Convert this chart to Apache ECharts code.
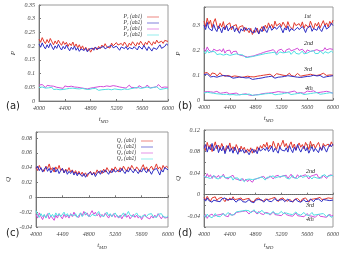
<!DOCTYPE html>
<html><head><meta charset="utf-8">
<script src="https://cdn.jsdelivr.net/npm/echarts@6/dist/echarts.min.js"></script>
<style>html,body{margin:0;padding:0;background:#fff}#c{width:352px;height:256px}</style>
</head><body><div id="c"></div>
<script>
const tMD = [4000,4025,4050,4075,4100,4125,4150,4175,4200,4225,
4250,4275,4300,4325,4350,4375,4400,4425,4450,4475,
4500,4525,4550,4575,4600,4625,4650,4675,4700,4725,
4750,4775,4800,4825,4850,4875,4900,4925,4950,4975,
5000,5025,5050,5075,5100,5125,5150,5175,5200,5225,
5250,5275,5300,5325,5350,5375,5400,5425,5450,5475,
5500,5525,5550,5575,5600,5625,5650,5675,5700,5725,
5750,5775,5800,5825,5850,5875,5900,5925,5950,5975,6000];

// panel (a)
const P1_ab1 = [.226,.214,.231,.218,.209,.224,.212,.228,.216,.205,.219,.208,.222,.211,.203,.217,.206,.214,.199,.210,.202,.215,.197,.208,.194,.205,.190,.201,.186,.196,.183,.192,.178,.189,.182,.195,.186,.199,.191,.204,.196,.209,.198,.205,.193,.211,.201,.196,.213,.204,.198,.210,.202,.215,.206,.197,.211,.203,.216,.208,.200,.213,.205,.218,.209,.201,.214,.206,.219,.211,.203,.216,.208,.222,.212,.205,.218,.210,.221,.214,.217];
const P1_ab2 = [.208,.196,.212,.199,.190,.205,.194,.210,.198,.187,.201,.192,.207,.195,.186,.199,.190,.204,.193,.183,.196,.188,.200,.185,.194,.181,.190,.197,.184,.192,.179,.188,.183,.193,.185,.197,.189,.182,.194,.187,.199,.190,.186,.198,.192,.203,.194,.188,.200,.193,.185,.197,.204,.191,.199,.187,.195,.202,.190,.198,.193,.186,.200,.195,.189,.203,.196,.184,.198,.191,.182,.194,.201,.188,.197,.205,.192,.186,.199,.208,.203];
const P2_ab1 = [.058,.051,.060,.053,.049,.057,.050,.055,.048,.054,.059,.050,.056,.048,.053,.046,.055,.049,.052,.047,.054,.048,.051,.045,.050,.044,.048,.042,.046,.040,.044,.039,.047,.042,.049,.044,.051,.046,.053,.048,.052,.046,.055,.049,.053,.047,.056,.050,.054,.048,.051,.057,.049,.054,.047,.052,.058,.050,.055,.049,.053,.047,.056,.051,.049,.055,.050,.058,.052,.048,.055,.050,.057,.052,.060,.053,.049,.056,.051,.054,.050];
const P2_ab2 = [.049,.043,.051,.045,.047,.041,.048,.044,.050,.042,.046,.043,.049,.041,.045,.042,.048,.044,.040,.046,.042,.047,.041,.045,.039,.044,.041,.046,.040,.043,.038,.042,.040,.045,.041,.046,.042,.039,.044,.041,.046,.042,.048,.043,.045,.041,.047,.044,.049,.042,.045,.041,.048,.044,.046,.042,.049,.045,.043,.047,.044,.050,.043,.046,.042,.048,.045,.051,.044,.047,.043,.049,.045,.052,.046,.042,.048,.044,.050,.046,.044];

// panel (b)
const B1_ab1 = [.318,.296,.330,.305,.322,.292,.314,.328,.300,.287,.309,.294,.316,.285,.302,.297,.311,.283,.298,.290,.304,.279,.295,.287,.300,.276,.292,.284,.271,.289,.264,.282,.273,.290,.268,.285,.296,.278,.302,.289,.311,.294,.305,.287,.318,.299,.291,.309,.296,.314,.302,.290,.316,.298,.306,.285,.312,.300,.293,.308,.296,.315,.289,.304,.310,.292,.318,.301,.287,.309,.298,.313,.291,.306,.320,.300,.311,.295,.317,.305,.322];
const B1_ab2 = [.302,.284,.313,.289,.296,.279,.305,.286,.276,.299,.288,.271,.294,.283,.301,.278,.290,.284,.297,.275,.291,.280,.269,.287,.278,.293,.281,.273,.289,.277,.284,.270,.292,.279,.266,.286,.275,.297,.283,.272,.289,.298,.281,.276,.294,.285,.279,.300,.287,.271,.291,.282,.298,.276,.288,.295,.280,.274,.293,.284,.278,.296,.287,.272,.290,.283,.299,.277,.288,.294,.281,.297,.285,.276,.292,.302,.286,.279,.296,.310,.300];
const B2_ab1 = [.208,.196,.214,.201,.209,.193,.205,.212,.198,.190,.203,.194,.207,.189,.199,.192,.201,.186,.195,.190,.197,.184,.192,.180,.188,.177,.185,.173,.181,.176,.170,.178,.174,.183,.177,.187,.181,.192,.185,.196,.189,.199,.192,.203,.195,.188,.200,.193,.205,.197,.190,.202,.196,.207,.198,.191,.203,.195,.209,.200,.193,.205,.198,.190,.202,.207,.196,.204,.199,.192,.203,.209,.197,.205,.200,.211,.202,.196,.207,.201,.204];
const B2_ab2 = [.196,.187,.201,.190,.184,.197,.189,.193,.183,.191,.186,.194,.181,.189,.185,.192,.180,.187,.183,.178,.186,.179,.183,.175,.182,.176,.171,.179,.173,.168,.175,.170,.178,.172,.181,.176,.184,.178,.187,.180,.189,.183,.191,.185,.193,.181,.188,.194,.186,.190,.183,.192,.187,.195,.184,.191,.198,.188,.193,.185,.191,.197,.186,.194,.189,.183,.196,.190,.199,.187,.193,.188,.198,.191,.186,.195,.200,.189,.194,.197,.191];
const B3_ab1 = [.108,.100,.111,.103,.098,.109,.102,.106,.097,.104,.110,.101,.105,.096,.103,.099,.107,.094,.100,.097,.102,.095,.099,.091,.097,.093,.089,.096,.090,.094,.087,.093,.089,.096,.091,.098,.093,.100,.095,.102,.097,.104,.099,.094,.101,.106,.098,.103,.096,.100,.105,.098,.102,.108,.099,.104,.095,.101,.107,.100,.096,.103,.099,.106,.101,.097,.104,.109,.100,.105,.099,.106,.102,.097,.108,.103,.099,.107,.101,.104,.100];
const B3_ab2 = [.102,.096,.105,.098,.093,.101,.095,.099,.092,.100,.096,.091,.099,.094,.097,.090,.095,.092,.088,.094,.090,.086,.093,.088,.091,.085,.089,.084,.090,.087,.083,.088,.085,.091,.087,.093,.089,.086,.092,.088,.094,.090,.096,.091,.088,.095,.092,.097,.093,.089,.095,.091,.098,.093,.096,.090,.094,.099,.092,.096,.091,.097,.093,.099,.095,.090,.096,.094,.100,.093,.097,.092,.099,.095,.091,.098,.094,.101,.096,.093,.098];
const B4_ab1 = [.032,.027,.034,.029,.033,.026,.031,.028,.035,.030,.027,.032,.029,.025,.031,.028,.024,.030,.026,.023,.028,.024,.021,.026,.023,.019,.025,.022,.020,.024,.018,.023,.021,.026,.022,.028,.025,.030,.027,.032,.028,.033,.029,.026,.031,.027,.034,.029,.032,.028,.031,.035,.030,.027,.033,.029,.036,.031,.028,.034,.030,.033,.027,.031,.036,.029,.034,.030,.037,.032,.029,.034,.031,.028,.033,.030,.035,.029,.032,.030,.027];
const B4_ab2 = [.028,.024,.031,.026,.029,.023,.027,.030,.025,.028,.024,.027,.022,.026,.023,.028,.021,.025,.022,.026,.020,.024,.021,.018,.023,.020,.022,.019,.024,.021,.019,.022,.020,.024,.021,.019,.023,.020,.025,.022,.026,.023,.027,.024,.021,.026,.023,.028,.024,.022,.027,.024,.029,.025,.022,.027,.024,.030,.026,.023,.028,.025,.022,.027,.024,.029,.026,.023,.028,.025,.030,.026,.023,.028,.025,.031,.027,.024,.029,.026,.028];

// panel (c)
const Q1_ab1 = [.041,.036,.043,.038,.040,.035,.042,.039,.045,.037,.040,.034,.041,.037,.043,.036,.039,.033,.038,.035,.040,.034,.037,.032,.036,.031,.035,.030,.034,.029,.033,.028,.032,.035,.030,.034,.031,.037,.033,.036,.032,.038,.034,.040,.036,.033,.039,.035,.041,.037,.034,.040,.036,.042,.038,.035,.041,.037,.043,.039,.036,.041,.038,.034,.040,.044,.037,.041,.035,.039,.042,.037,.040,.045,.038,.041,.036,.043,.039,.042,.040];
const Q1_ab2 = [.039,.042,.036,.040,.034,.038,.041,.035,.039,.033,.037,.040,.034,.038,.032,.036,.039,.033,.037,.031,.035,.032,.036,.030,.034,.029,.033,.031,.028,.032,.027,.031,.029,.034,.030,.033,.028,.032,.035,.031,.036,.033,.037,.034,.031,.036,.033,.038,.034,.032,.037,.034,.039,.035,.032,.037,.034,.039,.036,.033,.038,.035,.032,.037,.034,.039,.036,.033,.038,.035,.031,.036,.034,.039,.035,.030,.037,.034,.040,.038,.037];
const Q2_ab1 = [-.023,-.028,-.021,-.026,-.030,-.024,-.027,-.022,-.029,-.025,-.027,-.031,-.024,-.028,-.022,-.026,-.029,-.023,-.027,-.024,-.028,-.022,-.026,-.020,-.025,-.023,-.027,-.021,-.025,-.019,-.024,-.021,-.026,-.022,-.018,-.023,-.020,-.025,-.022,-.027,-.023,-.026,-.021,-.025,-.028,-.023,-.026,-.022,-.027,-.024,-.028,-.024,-.029,-.025,-.022,-.027,-.024,-.029,-.026,-.023,-.027,-.024,-.028,-.025,-.030,-.026,-.023,-.027,-.025,-.029,-.025,-.028,-.024,-.027,-.022,-.026,-.029,-.025,-.028,-.026,-.027];
const Q2_ab2 = [-.018,-.024,-.027,-.022,-.026,-.023,-.028,-.024,-.021,-.026,-.023,-.027,-.021,-.025,-.022,-.026,-.024,-.020,-.025,-.022,-.026,-.023,-.021,-.025,-.022,-.027,-.024,-.021,-.026,-.023,-.020,-.024,-.022,-.026,-.023,-.021,-.025,-.022,-.019,-.024,-.022,-.026,-.023,-.020,-.025,-.022,-.026,-.024,-.021,-.025,-.023,-.027,-.024,-.021,-.026,-.023,-.019,-.024,-.022,-.026,-.024,-.021,-.025,-.023,-.027,-.024,-.022,-.026,-.023,-.025,-.022,-.026,-.024,-.027,-.023,-.025,-.022,-.026,-.024,-.027,-.025];

// panel (d)
const D1_ab1 = [.091,.082,.097,.086,.093,.080,.089,.098,.085,.092,.084,.095,.087,.079,.091,.085,.096,.083,.089,.081,.093,.086,.079,.090,.083,.088,.078,.085,.080,.087,.077,.084,.080,.089,.082,.091,.086,.094,.088,.097,.085,.092,.087,.099,.090,.084,.096,.088,.093,.101,.089,.095,.086,.092,.098,.087,.094,.083,.090,.096,.088,.093,.085,.097,.091,.084,.099,.089,.094,.086,.092,.097,.088,.083,.095,.090,.087,.094,.089,.098,.091];
const D1_ab2 = [.086,.093,.079,.089,.083,.095,.081,.088,.092,.078,.087,.081,.090,.076,.085,.091,.080,.086,.077,.088,.082,.075,.086,.080,.084,.077,.083,.079,.074,.081,.085,.078,.083,.076,.087,.081,.079,.086,.082,.088,.080,.084,.090,.079,.086,.082,.077,.089,.083,.086,.081,.087,.079,.091,.084,.078,.088,.082,.093,.085,.079,.086,.090,.081,.087,.077,.084,.089,.080,.086,.083,.078,.088,.082,.091,.085,.079,.087,.093,.089,.094];
const D2_ab1 = [.036,.031,.039,.033,.037,.030,.035,.038,.032,.036,.030,.034,.038,.032,.035,.029,.033,.031,.036,.030,.033,.028,.031,.026,.030,.025,.029,.024,.028,.026,.023,.028,.025,.030,.027,.032,.029,.034,.030,.033,.031,.035,.032,.029,.034,.031,.036,.032,.030,.035,.032,.036,.030,.034,.038,.032,.035,.031,.037,.033,.030,.035,.032,.037,.033,.029,.034,.031,.036,.033,.038,.032,.035,.031,.036,.033,.030,.035,.032,.037,.034];
const D2_ab2 = [.034,.037,.032,.035,.030,.033,.036,.031,.034,.029,.033,.030,.035,.031,.028,.032,.029,.033,.027,.031,.028,.031,.026,.030,.027,.024,.028,.025,.029,.026,.028,.025,.029,.027,.031,.028,.033,.030,.027,.032,.029,.033,.030,.035,.031,.028,.033,.030,.034,.031,.035,.031,.034,.029,.032,.036,.031,.034,.030,.033,.036,.032,.029,.034,.031,.035,.032,.029,.033,.036,.031,.034,.030,.035,.032,.037,.033,.030,.035,.033,.036];
const D3_ab1 = [-.005,-.010,-.003,-.008,-.012,-.006,-.009,-.004,-.011,-.007,-.010,-.005,-.009,-.013,-.007,-.011,-.006,-.010,-.004,-.009,-.012,-.008,-.011,-.006,-.010,-.013,-.008,-.011,-.007,-.012,-.009,-.013,-.008,-.011,-.006,-.010,-.007,-.012,-.008,-.005,-.009,-.012,-.007,-.010,-.005,-.009,-.013,-.008,-.011,-.006,-.010,-.007,-.012,-.008,-.011,-.014,-.009,-.012,-.007,-.010,-.013,-.008,-.011,-.006,-.010,-.014,-.009,-.012,-.008,-.011,-.007,-.010,-.005,-.009,-.012,-.008,-.011,-.006,-.009,-.007,-.006];
const D3_ab2 = [-.008,-.012,-.006,-.011,-.009,-.014,-.010,-.007,-.012,-.009,-.013,-.008,-.011,-.006,-.010,-.013,-.009,-.012,-.008,-.011,-.014,-.010,-.012,-.009,-.013,-.010,-.014,-.011,-.009,-.013,-.011,-.015,-.010,-.013,-.009,-.012,-.010,-.014,-.011,-.008,-.012,-.009,-.013,-.010,-.007,-.011,-.014,-.010,-.012,-.009,-.013,-.010,-.008,-.012,-.009,-.013,-.011,-.008,-.012,-.010,-.014,-.011,-.009,-.013,-.010,-.012,-.008,-.011,-.013,-.009,-.012,-.008,-.011,-.013,-.009,-.012,-.010,-.007,-.011,-.009,-.010];
const D4_ab1 = [-.041,-.037,-.044,-.039,-.042,-.036,-.040,-.043,-.038,-.041,-.037,-.040,-.035,-.039,-.036,-.041,-.034,-.038,-.035,-.037,-.033,-.036,-.032,-.035,-.031,-.034,-.030,-.033,-.036,-.032,-.034,-.030,-.033,-.036,-.031,-.035,-.032,-.037,-.033,-.036,-.034,-.038,-.035,-.032,-.037,-.034,-.038,-.035,-.039,-.036,-.033,-.037,-.035,-.039,-.036,-.040,-.037,-.034,-.039,-.036,-.040,-.037,-.041,-.038,-.035,-.039,-.036,-.040,-.038,-.042,-.039,-.036,-.040,-.037,-.041,-.038,-.042,-.039,-.036,-.040,-.038];
const D4_ab2 = [-.038,-.042,-.036,-.040,-.037,-.043,-.039,-.035,-.040,-.037,-.041,-.038,-.035,-.039,-.036,-.033,-.037,-.034,-.038,-.035,-.032,-.035,-.031,-.034,-.030,-.033,-.029,-.032,-.030,-.034,-.031,-.028,-.032,-.030,-.034,-.031,-.029,-.033,-.031,-.035,-.032,-.036,-.033,-.031,-.035,-.032,-.036,-.034,-.031,-.035,-.037,-.034,-.031,-.036,-.033,-.037,-.035,-.032,-.036,-.034,-.038,-.035,-.033,-.037,-.034,-.039,-.036,-.033,-.038,-.035,-.037,-.040,-.036,-.039,-.035,-.038,-.041,-.037,-.039,-.042,-.040];

const legendA = ['P\u2081 (ab1)','P\u2081 (ab2)','P\u2082 (ab1)','P\u2082 (ab2)'];
const legendC = ['Q\u2081 (ab1)','Q\u2081 (ab2)','Q\u2082 (ab1)','Q\u2082 (ab2)'];
const orderLabels = ['1st','2nd','3rd','4th'];
const panelLabels = ['(a)','(b)','(c)','(d)'];

const RED='#e2372c', BLUE='#2c2cc4', MAG='#d24bd8', CYAN='#4fdfe2';
const serif = '"Liberation Serif","DejaVu Serif",serif';

function pts(v){ return tMD.map((x,i)=>[x,v[i]]); }
function fmtEvery(step){ return function(v){ const k=v/step; return Math.abs(k-Math.round(k))<1e-6 ? String(+v.toFixed(3)) : ''; }; }

const grids = [
  {left:39, top:5, width:129, height:96},
  {left:204, top:7, width:129, height:93},
  {left:36, top:132, width:132, height:95},
  {left:204, top:130, width:129, height:97}
].map(g=>Object.assign({show:true, borderColor:'#9a9a9a', borderWidth:1, backgroundColor:'transparent'}, g));

const axisLab = {fontFamily:serif, fontStyle:'italic', fontSize:6, color:'#444'};
const xAxes = grids.map((g,i)=>({
  type:'value', gridIndex:i, min:4000, max:6000, interval:400,
  axisLine:{show:true, lineStyle:{color:'#777', width:1}},
  axisTick:{inside:true, length:2, lineStyle:{color:'#777'}},
  splitLine:{show:false},
  axisLabel:Object.assign({margin:4, formatter:v=>String(v)}, axisLab),
  name:'{t|t}{s|MD}', nameLocation:'middle', nameGap:14,
  nameTextStyle:{rich:{t:{fontFamily:serif,fontStyle:'italic',fontSize:7,color:'#444'}, s:{fontFamily:serif,fontStyle:'italic',fontSize:5,color:'#444',padding:[4,0,0,0]}}}
}));
const yCfg = [
  {min:0, max:0.35, interval:0.05, step:0.05, name:'P'},
  {min:0, max:0.375, interval:0.1, step:0.1, name:'P'},
  {min:-0.04, max:0.088, interval:0.02, step:0.02, name:'Q'},
  {min:-0.06, max:0.12, interval:0.02, step:0.04, name:'Q'}
];
const yAxes = yCfg.map((c,i)=>({
  type:'value', gridIndex:i, min:c.min, max:c.max, interval:c.interval,
  axisLine:{show:true, lineStyle:{color:'#777', width:1}},
  axisTick:{inside:true, length:2, lineStyle:{color:'#777'}},
  splitLine:{show:false},
  axisLabel:Object.assign({margin:4, formatter:fmtEvery(c.step)}, axisLab),
  name:c.name, nameLocation:'middle', nameGap: i===2?24:22, nameRotate:90,
  nameTextStyle:{fontFamily:serif, fontStyle:'italic', fontSize:7, color:'#333'}
}));

function line(name, data, color, idx, extra){
  return Object.assign({type:'line', name:name, data:pts(data), xAxisIndex:idx, yAxisIndex:idx,
    showSymbol:false, symbol:'none', lineStyle:{color:color, width:1}, itemStyle:{color:color},
    animation:false, z:2}, extra||{});
}
const zeroLine = {silent:true, symbol:'none', label:{show:false}, lineStyle:{color:'#666', type:'dotted', width:1}, data:[{yAxis:0}]};

const series = [
  line(legendA[0], P1_ab1, RED, 0),
  line(legendA[1], P1_ab2, BLUE, 0),
  line(legendA[2], P2_ab1, MAG, 0),
  line(legendA[3], P2_ab2, CYAN, 0),
  line('b1r', B1_ab1, RED, 1), line('b1b', B1_ab2, BLUE, 1),
  line('b2m', B2_ab1, MAG, 1), line('b2c', B2_ab2, CYAN, 1),
  line('b3r', B3_ab1, RED, 1), line('b3b', B3_ab2, BLUE, 1),
  line('b4m', B4_ab1, MAG, 1), line('b4c', B4_ab2, CYAN, 1),
  line(legendC[0], Q1_ab1, RED, 2, {markLine:zeroLine}),
  line(legendC[1], Q1_ab2, BLUE, 2),
  line(legendC[2], Q2_ab1, MAG, 2),
  line(legendC[3], Q2_ab2, CYAN, 2),
  line('d1r', D1_ab1, RED, 3, {markLine:zeroLine}), line('d1b', D1_ab2, BLUE, 3),
  line('d2m', D2_ab1, MAG, 3), line('d2c', D2_ab2, CYAN, 3),
  line('d3r', D3_ab1, RED, 3), line('d3b', D3_ab2, BLUE, 3),
  line('d4m', D4_ab1, MAG, 3), line('d4c', D4_ab2, CYAN, 3)
];

const legendBase = {orient:'vertical', align:'right', itemWidth:12, itemHeight:5, itemGap:0,
  icon:'path://M0,4.5 L20,4.5 L20,5.5 L0,5.5 Z', selectedMode:false,
  textStyle:{fontFamily:serif, fontStyle:'italic', fontSize:5.5, lineHeight:5, color:'#333', padding:[0,0,0,0]}};
const legends = [
  Object.assign({}, legendBase, {data:legendA, right:352-164, top:9}),
  Object.assign({}, legendBase, {data:legendC, right:352-158, top:133})
];

const txt = (x,y,s,size,font,style)=>({type:'text', left:x, top:y, silent:true,
  style:{text:s, fontSize:size, fontFamily:font, fontStyle:style||'normal', fill:'#222'}});
const graphics = [
  txt(6,101,panelLabels[0],10,'"DejaVu Sans",sans-serif'),
  txt(178,101,panelLabels[1],10,'"DejaVu Sans",sans-serif'),
  txt(6,228,panelLabels[2],10,'"DejaVu Sans",sans-serif'),
  txt(178,228,panelLabels[3],10,'"DejaVu Sans",sans-serif'),
  txt(304,13,orderLabels[0],6,serif,'italic'),
  txt(304,40,orderLabels[1],6,serif,'italic'),
  txt(304,66,orderLabels[2],6,serif,'italic'),
  txt(305,85,orderLabels[3],6,serif,'italic'),
  txt(306,143,orderLabels[0],6,serif,'italic'),
  txt(306,168,orderLabels[1],6,serif,'italic'),
  txt(306,202,orderLabels[2],6,serif,'italic'),
  txt(306,216,orderLabels[3],6,serif,'italic')
];

const chart = echarts.init(document.getElementById('c'), null, {renderer:'canvas'});
chart.setOption({animation:false, grid:grids, xAxis:xAxes, yAxis:yAxes, series:series, legend:legends, graphic:graphics});
</script></body></html>
